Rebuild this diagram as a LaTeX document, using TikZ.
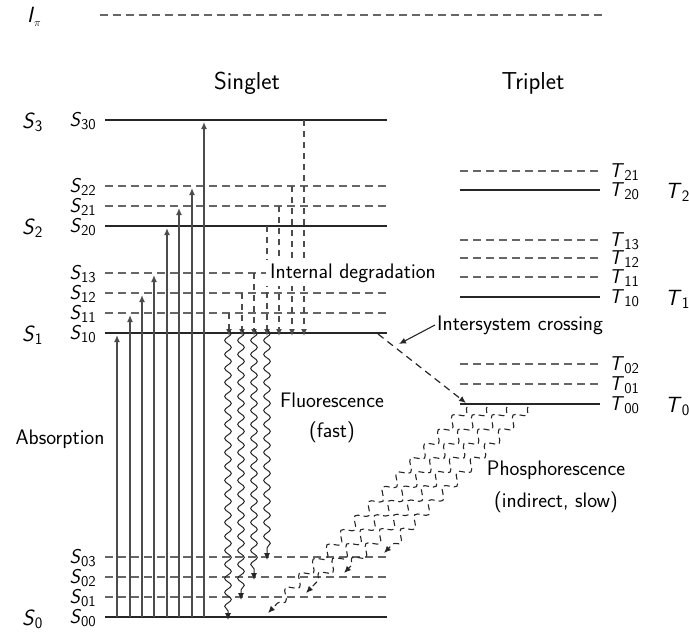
\documentclass[tikz,border=0pt]{standalone}
\usetikzlibrary{arrows.meta,decorations.pathmorphing}
\newcommand\BigLab[2]{{\fontsize{22}{22}\selectfont\textit{#1}\raisebox{-0.4ex}{\fontsize{16}{16}\selectfont #2}}}
\newcommand\SmLab[2]{{\fontsize{20}{20}\selectfont\textit{#1}\raisebox{-0.4ex}{\fontsize{15}{15}\selectfont #2}}}
\begin{document}
\begin{tikzpicture}[x=1pt,y=-1pt,
  font=\sffamily\fontsize{21}{24}\selectfont,
  >={Latex[length=7pt,width=6pt]},
  lvl/.style={draw=black!85,line width=2.6pt},
  sublvl/.style={draw=black!60,line width=1.6pt,dash pattern=on 8pt off 5pt},
  absarrow/.style={->,draw=black!70,line width=1.3pt,shorten >=2pt},
  degr/.style={->,draw=black!70,line width=1.2pt,dash pattern=on 6pt off 5pt},
  fluo/.style={->,draw=black!85,line width=1pt,decorate,
    decoration={snake,amplitude=3.3pt,segment length=14pt,post length=7pt}},
  phos/.style={->,draw=black!85,line width=1.1pt,dash pattern=on 6pt off 4pt,decorate,
    decoration={snake,amplitude=5pt,segment length=20pt,post length=8pt}},
  lab/.style={inner sep=0pt},
  txt/.style={inner sep=2pt,align=center}]
\useasboundingbox (0,0) rectangle (689,633);

% I_pi
\node[lab] (Ipi) at (34,17) {\BigLab{I}{$\scriptstyle\pi$}};
\coordinate (Ipil) at (100,15);
\coordinate (Ipir) at (603,15);
\draw[sublvl] (Ipil) -- (Ipir);

% headings
\node[lab] (singlet) at (247,83) {\fontsize{24.5}{28}\selectfont Singlet};
\node[lab] (triplet) at (533,83) {\fontsize{24.5}{28}\selectfont Triplet};

% singlet levels
\foreach \n/\y in {S30/120,S20/226,S10/333,S00/617}{
  \coordinate (\n) at (105,\y);
  \coordinate (\n r) at (387,\y);
  \draw[lvl] (\n) -- (\n r);
}
\foreach \n/\y in {S22/186,S21/206,S13/273,S12/293,S11/313,S03/557,S02/577,S01/597}{
  \coordinate (\n) at (105,\y);
  \coordinate (\n r) at (387,\y);
  \draw[sublvl] (\n) -- (\n r);
}
% triplet levels
\foreach \n/\y in {T20/190,T10/297,T00/404}{
  \coordinate (\n) at (460,\y);
  \coordinate (\n r) at (600,\y);
  \draw[lvl] (\n) -- (\n r);
}
\foreach \n/\y in {T21/171,T13/240,T12/258,T11/277,T02/364,T01/384}{
  \coordinate (\n) at (460,\y);
  \coordinate (\n r) at (600,\y);
  \draw[sublvl] (\n) -- (\n r);
}

% singlet labels
\foreach \n/\s/\y in {s30/30/120,s22/22/186,s21/21/206,s20/20/226,s13/13/273,s12/12/293,s11/11/313,s10/10/333,s03/03/557,s02/02/577,s01/01/597,s00/00/617}{
  \node[lab,anchor=base east] (\n) at (96,\y+6) {\SmLab{S}{\s}};
}
\foreach \n/\s/\y in {bS3/3/120,bS2/2/226,bS1/1/333,bS0/0/617}{
  \node[lab,anchor=base west] (\n) at (22,\y+8) {\BigLab{S}{\s}};
}
% triplet labels
\foreach \n/\s/\y in {t21/21/171,t20/20/190,t13/13/240,t12/12/258,t11/11/277,t10/10/297,t02/02/364,t01/01/384,t00/00/404}{
  \node[lab,anchor=base west] (\n) at (609,\y+6) {\SmLab{T}{\s}};
}
\foreach \n/\s/\y in {bT2/2/190,bT1/1/297,bT0/0/404}{
  \node[lab,anchor=base west] (\n) at (665,\y+8) {\BigLab{T}{\s}};
}

% absorption arrows
\foreach \i/\x/\t in {1/117/S10,2/130/S11,3/142/S12,4/154/S13,5/167/S20,6/179/S21,7/192/S22,8/204/S30}{
  \coordinate (a\i) at (\x,0);
  \draw[absarrow] (a\i |- S00) -- (a\i |- \t);
}
\node[txt] (absorption) at (60,439) {Absorption};

% internal degradation
\foreach \i/\x/\f in {1/229/S11,2/242/S12,3/254/S13,4/267/S20,5/279/S21,6/292/S22,7/304/S30}{
  \coordinate (d\i) at (\x,0);
  \draw[degr] (d\i |- \f) -- ([yshift=-3pt]d\i |- S10);
}
\node[txt,fill=white,inner sep=4pt] (intdeg) at (353,273) {Internal degradation};

% fluorescence
\foreach \i/\x/\t in {1/228/S00,2/241/S01,3/254/S02,4/267/S03}{
  \coordinate (f\i) at (\x,0);
  \draw[fluo] ([yshift=4pt]f\i |- S10) -- ([yshift=-3pt]f\i |- \t);
}
\node[txt] (fluor) at (332,400) {Fluorescence};
\node[txt] (fast) at (332,432) {(fast)};

% intersystem crossing
\coordinate (iscs) at (378,334);
\coordinate (isce) at (466,403);
\draw[->,draw=black!85,line width=1.2pt,dash pattern=on 7pt off 5pt] (iscs) -- (isce);
\node[txt,anchor=west] (isc) at (435,325) {Intersystem crossing};
\coordinate (iscp) at (399,344);
\draw[->,draw=black!85,line width=1.1pt] (isc.west) -- (iscp);

% phosphorescence
\foreach \i/\xs/\xe/\ye in {1/467/268/613,2/487/306/593,3/507/344/573,4/528/384/553}{
  \coordinate (ps\i) at (\xs,407);
  \coordinate (pe\i) at (\xe,\ye);
  \draw[phos] (ps\i) -- (pe\i);
}
\node[txt] (phosph) at (556,470) {Phosphorescence};
\node[txt] (slow) at (556,502) {(indirect, slow)};
\end{tikzpicture}
\end{document}
